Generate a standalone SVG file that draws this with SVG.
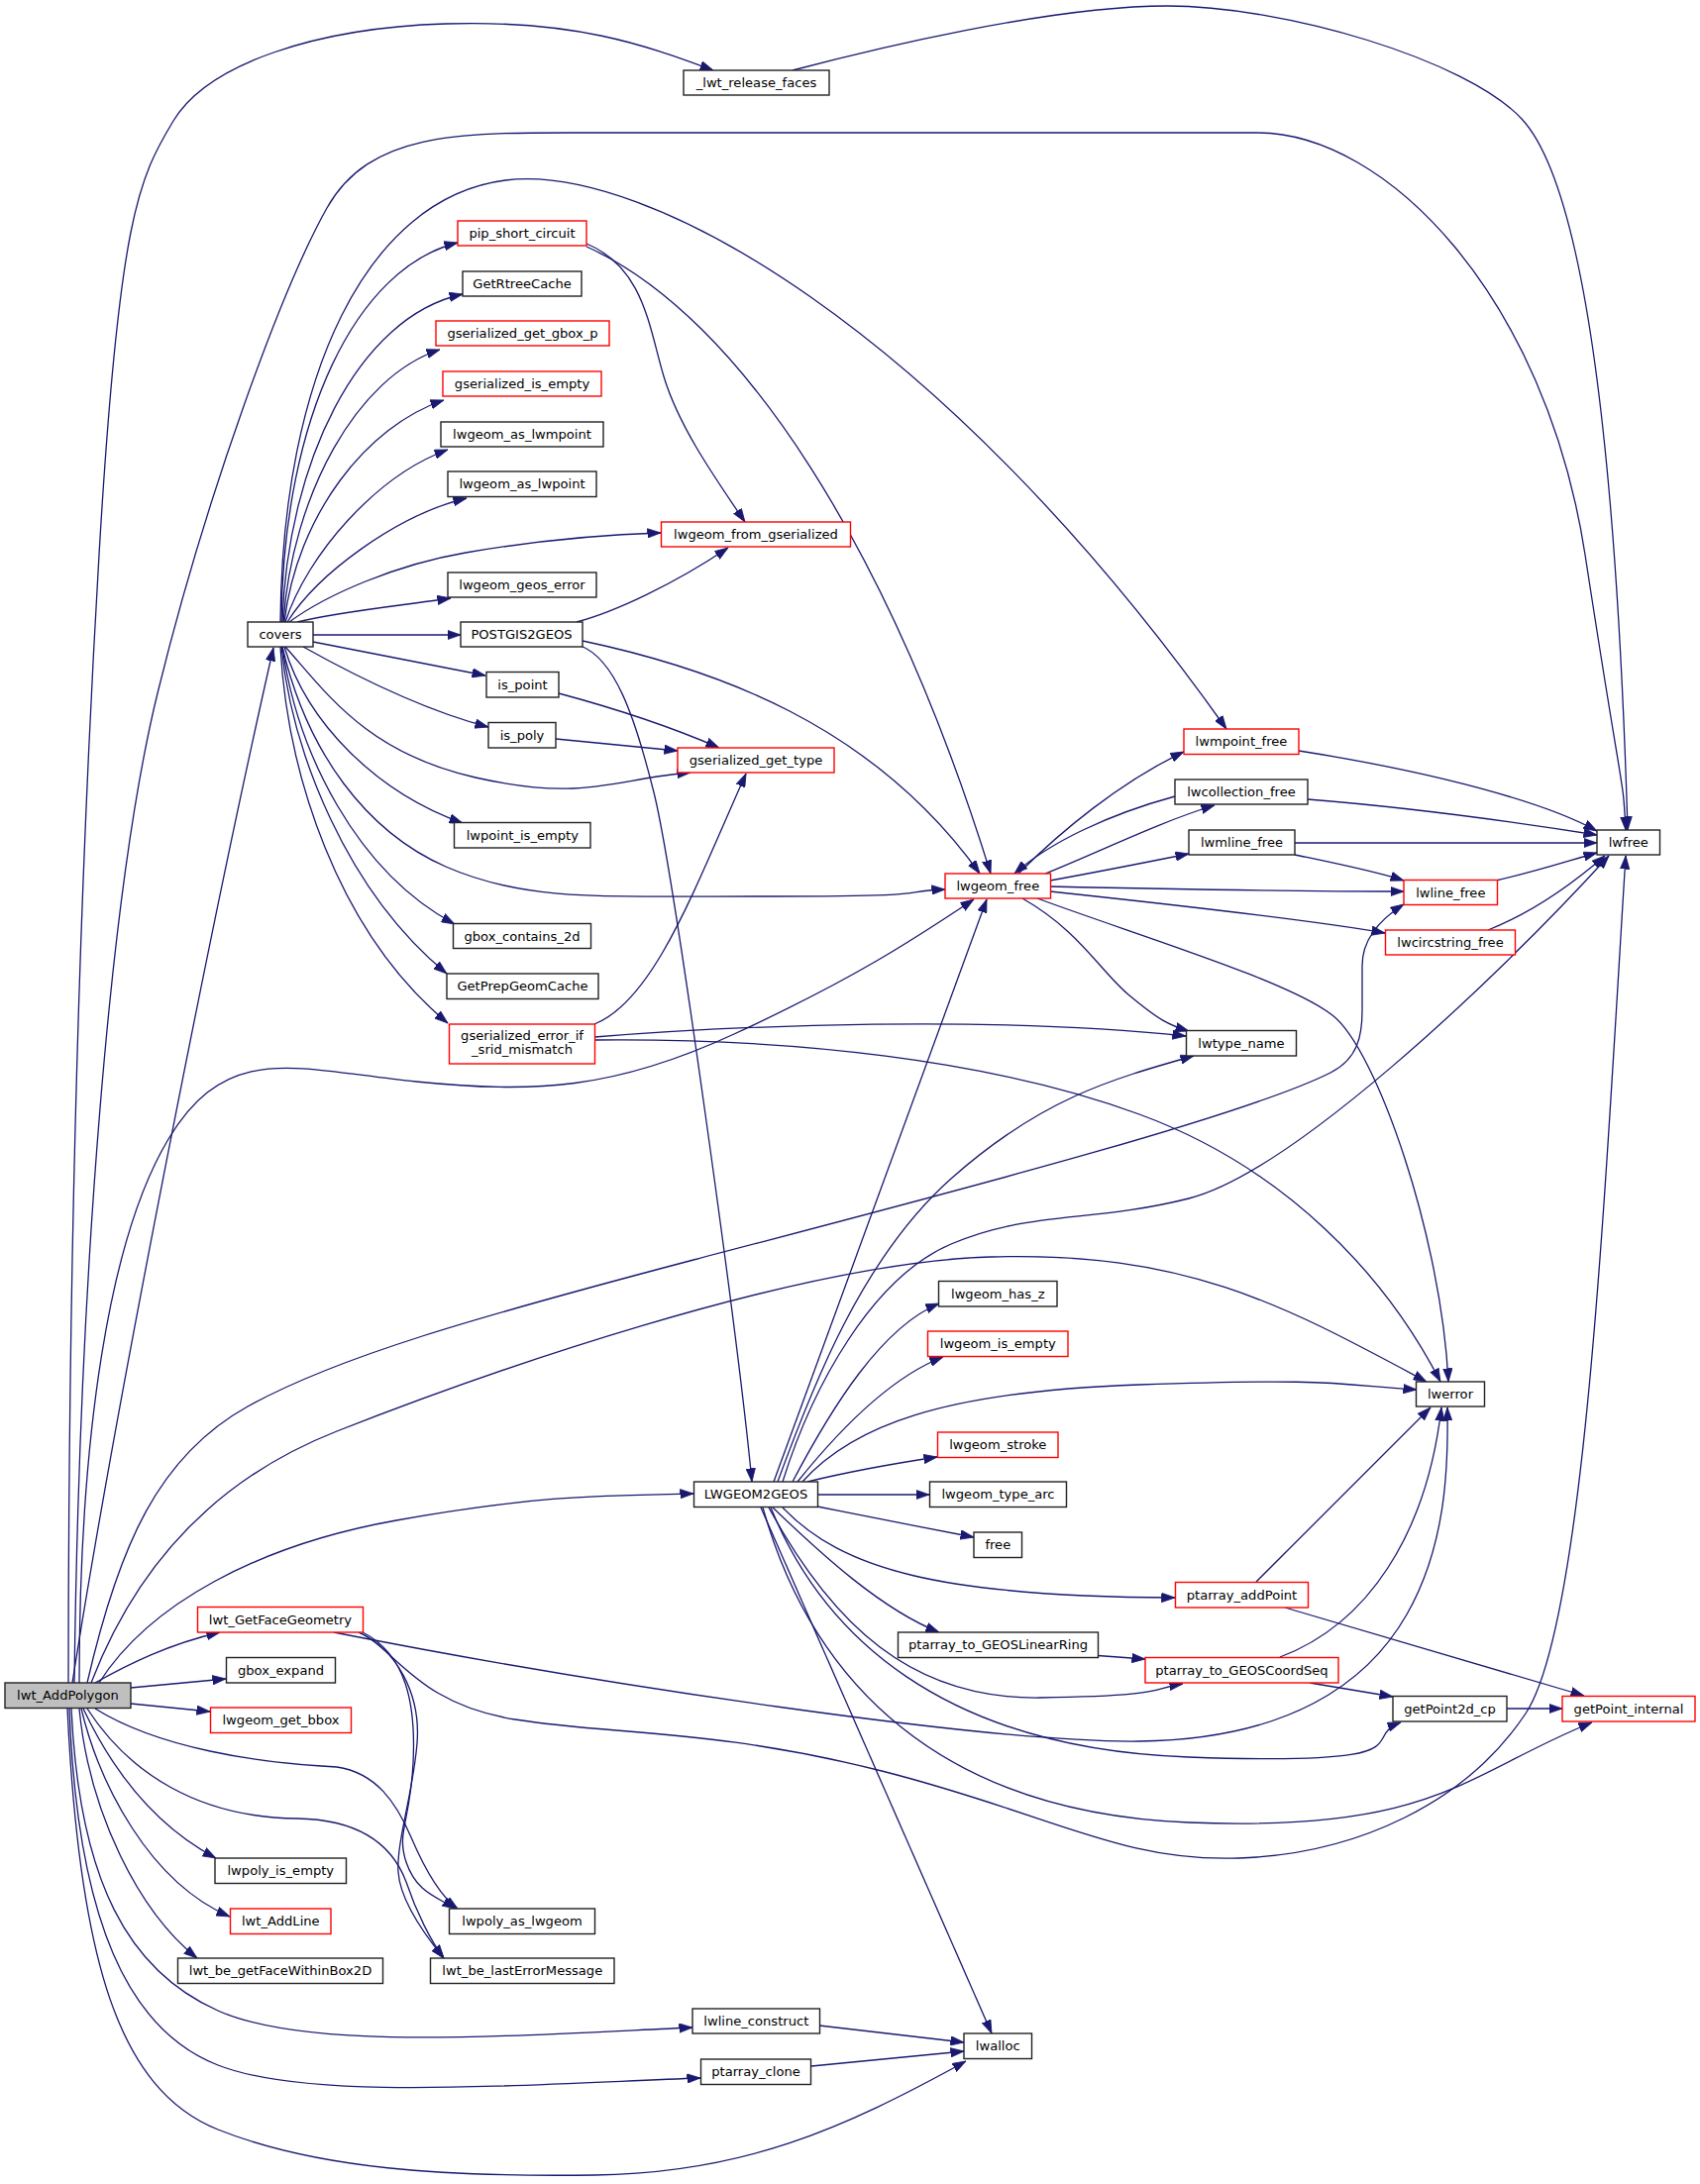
<svg xmlns="http://www.w3.org/2000/svg" width="1716" height="2205" viewBox="0 0 1716 2205">
<defs>
<marker id="a" markerUnits="userSpaceOnUse" markerWidth="14" markerHeight="10" viewBox="0 0 14 10" refX="13.5" refY="5" orient="auto"><path d="M0,0.3 L13.5,5 L0,9.7 z" fill="#191970" stroke="#191970" stroke-width="0.8"/></marker>
</defs>
<style>
.n rect{fill:#fff;stroke:#222;stroke-width:1.4}
.r rect{stroke:#f00}
.root rect{fill:#bfbfbf}
text{font-family:"DejaVu Sans","Liberation Sans",sans-serif;font-size:13.1px;text-anchor:middle;fill:#000}
#edges path{fill:none;stroke:#191970;stroke-width:1.3;marker-end:url(#a)}
</style>
<rect width="1716" height="2205" fill="#fff"/>
<g id="edges">
<path d="M69,1699 C69,1300 80,900 100,560 S140,180 175,122 S320,28 450,24 S650,45 720,71"/>
<path d="M75,1699 C80,1300 110,900 159,700 S285,290 330,210 S470,134 600,134 L1269,134 C1400,134 1560,300 1600,560 S1638,780 1641,838"/>
<path d="M800,71 C880,50 1060,6 1178,6 S1480,60 1536,120 S1630,400 1643,838"/>
<path d="M73,1699 C120,1400 220,900 276,654"/>
<path d="M284,628 C286,420 360,270 462,245"/>
<path d="M285,628 C290,470 360,320 467,297"/>
<path d="M286,628 C295,500 360,380 444,353"/>
<path d="M287,628 C300,520 370,430 448,404"/>
<path d="M288,628 C310,560 380,480 452,454"/>
<path d="M290,628 C320,580 400,520 471,503"/>
<path d="M292,628 C330,600 400,570 470,558 S600,540 667,538"/>
<path d="M300,628 C340,618 400,612 455,604"/>
<path d="M316,641 L465,641"/>
<path d="M316,648 C380,660 440,672 490,682"/>
<path d="M306,653 C340,672 420,715 493,734"/>
<path d="M288,653 C330,700 370,760 480,785 S620,786 697,780"/>
<path d="M287,653 C310,730 380,800 467,831"/>
<path d="M285,653 C310,760 370,840 450,875 S600,905 780,905 S900,900 954,898"/>
<path d="M285,653 C300,760 360,880 459,933"/>
<path d="M284,653 C295,760 350,900 451,983"/>
<path d="M283,653 C290,780 340,940 452,1033"/>
<path d="M283,628 C285,380 370,200 510,182 S950,330 1238,736"/>
<path d="M582,628 C620,618 680,590 735,553"/>
<path d="M586,652 C620,665 640,720 660,800 S745,1350 759,1496"/>
<path d="M588,647 C720,675 880,730 989,882"/>
<path d="M592,246 C650,270 655,330 670,380 S720,480 752,527"/>
<path d="M592,249 C750,320 900,560 1000,882"/>
<path d="M564,700 C620,715 680,735 726,755"/>
<path d="M561,746 L684,758"/>
<path d="M600,1034 C660,1010 700,900 753,781"/>
<path d="M600,1047 C750,1035 1000,1025 1197,1046"/>
<path d="M600,1050 C800,1048 1000,1070 1150,1125 S1400,1290 1454,1395"/>
<path d="M1028,882 C1070,840 1130,790 1195,759"/>
<path d="M1186,804 C1120,822 1060,850 1024,882"/>
<path d="M1055,882 C1110,860 1170,830 1226,813"/>
<path d="M1060,889 C1110,880 1160,870 1200,862"/>
<path d="M1060,895 C1200,898 1330,900 1417,900"/>
<path d="M1060,900 C1200,915 1330,930 1398,942"/>
<path d="M1047,907 C1150,945 1300,990 1345,1025 S1455,1250 1462,1395"/>
<path d="M1032,907 C1090,940 1110,980 1140,1005 S1180,1035 1200,1041"/>
<path d="M1311,758 C1450,780 1560,810 1612,839"/>
<path d="M1320,807 C1420,815 1530,830 1612,843"/>
<path d="M1307,851 L1612,851"/>
<path d="M1307,863 C1350,872 1390,880 1417,889"/>
<path d="M1510,889 C1550,880 1580,870 1612,861"/>
<path d="M1502,939 C1550,920 1590,890 1620,864"/>
<path d="M80,1699 C80,1450 110,1250 170,1150 S300,1080 420,1092 S620,1100 741,1044 S920,950 983,908"/>
<path d="M88,1699 C120,1560 160,1470 250,1420 S480,1330 700,1272 S1250,1130 1343,1083 C1371,1069 1375,1045 1375,1020 L1375,975 C1375,950 1390,930 1417,913"/>
<path d="M92,1699 C130,1600 200,1500 340,1445 S800,1275 1000,1269 C1200,1263 1300,1320 1440,1395"/>
<path d="M790,1496 C820,1400 880,1290 960,1256 S1100,1235 1200,1210 S1500,1000 1624,864"/>
<path d="M785,1496 C820,1400 870,1270 960,1190 S1120,1090 1205,1066"/>
<path d="M781,1496 L996,908"/>
<path d="M800,1496 C840,1420 890,1340 948,1316"/>
<path d="M805,1496 C850,1440 900,1390 952,1370"/>
<path d="M810,1496 C860,1440 950,1405 1150,1398 S1350,1398 1430,1403"/>
<path d="M815,1496 C860,1485 900,1478 946,1471"/>
<path d="M825,1509 L938,1509"/>
<path d="M825,1521 C880,1532 930,1542 983,1552"/>
<path d="M790,1522 C850,1585 950,1612 1186,1613"/>
<path d="M780,1522 C830,1570 890,1625 948,1648"/>
<path d="M776,1522 C840,1640 920,1716 1050,1714 S1160,1705 1194,1700"/>
<path d="M778,1522 C830,1650 950,1765 1200,1774 S1370,1755 1414,1739"/>
<path d="M770,1522 C820,1700 950,1830 1200,1840 S1480,1790 1607,1739"/>
<path d="M768,1522 L1001,2053"/>
<path d="M337,1648 C600,1700 1000,1760 1150,1758 C1300,1756 1380,1700 1420,1630 C1460,1560 1462,1480 1461,1421"/>
<path d="M362,1648 C400,1665 420,1720 520,1736 S720,1745 890,1788 S1130,1880 1250,1876 S1480,1820 1540,1730 S1620,1200 1641,864"/>
<path d="M362,1648 C400,1665 425,1710 421,1760 S400,1860 402,1890 S430,1955 448,1977"/>
<path d="M366,1648 C410,1670 420,1720 417,1780 S400,1850 410,1880 S440,1915 460,1927"/>
<path d="M96,1725 C160,1765 260,1780 340,1784 C380,1790 400,1820 415,1855 C430,1890 445,1915 462,1927"/>
<path d="M88,1725 C130,1790 200,1835 300,1836 C360,1837 395,1860 410,1900 C420,1930 435,1960 448,1977"/>
<path d="M96,1699 C130,1680 170,1660 222,1648"/>
<path d="M132,1704 L228,1695"/>
<path d="M132,1720 L212,1728"/>
<path d="M84,1725 C110,1780 150,1840 218,1876"/>
<path d="M82,1725 C100,1800 150,1900 232,1935"/>
<path d="M80,1725 C90,1830 140,1930 199,1977"/>
<path d="M72,1725 C80,1900 130,1990 220,2030 S500,2056 699,2047"/>
<path d="M70,1725 C78,1940 130,2050 220,2085 S500,2106 707,2098"/>
<path d="M68,1725 C80,1980 120,2110 220,2150 S450,2198 600,2196 S850,2150 975,2081"/>
<path d="M100,1699 C150,1620 260,1560 400,1535 S600,1510 700,1508"/>
<path d="M827,2045 L973,2062"/>
<path d="M819,2086 L973,2071"/>
<path d="M1108,1671.5 L1156,1675"/>
<path d="M1268,1597 L1444,1421"/>
<path d="M1297,1623 L1599,1712"/>
<path d="M1292,1673 C1380,1640 1440,1550 1455,1421"/>
<path d="M1322,1699 L1406,1713"/>
<path d="M1521,1725 L1577,1725"/>
</g>
<g id="lwt_AddPolygon" class="n root"><rect x="5" y="1699" width="127" height="25.5"/><text x="68.5" y="1716.3">lwt_AddPolygon</text></g>
<g id="covers" class="n"><rect x="250" y="628" width="66" height="25"/><text x="283" y="645.1">covers</text></g>
<g id="_lwt_release_faces" class="n"><rect x="690" y="71" width="147" height="25"/><text x="763.5" y="88.1">_lwt_release_faces</text></g>
<g id="pip_short_circuit" class="n r"><rect x="462" y="223" width="130" height="25"/><text x="527" y="240.1">pip_short_circuit</text></g>
<g id="GetRtreeCache" class="n"><rect x="467" y="274" width="120" height="25"/><text x="527" y="291.1">GetRtreeCache</text></g>
<g id="gserialized_get_gbox_p" class="n r"><rect x="440" y="324" width="175" height="25"/><text x="527.5" y="341.1">gserialized_get_gbox_p</text></g>
<g id="gserialized_is_empty" class="n r"><rect x="447" y="375" width="160" height="25"/><text x="527" y="392.1">gserialized_is_empty</text></g>
<g id="lwgeom_as_lwmpoint" class="n"><rect x="445" y="426" width="164" height="25"/><text x="527" y="443.1">lwgeom_as_lwmpoint</text></g>
<g id="lwgeom_as_lwpoint" class="n"><rect x="452" y="476" width="150" height="25.5"/><text x="527" y="493.4">lwgeom_as_lwpoint</text></g>
<g id="lwgeom_from_gserialized" class="n r"><rect x="667.5" y="527" width="191" height="25"/><text x="763" y="544.1">lwgeom_from_gserialized</text></g>
<g id="lwgeom_geos_error" class="n"><rect x="452" y="578" width="150" height="25"/><text x="527" y="595.1">lwgeom_geos_error</text></g>
<g id="POSTGIS2GEOS" class="n"><rect x="465" y="628" width="123" height="25"/><text x="526.5" y="645.1">POSTGIS2GEOS</text></g>
<g id="is_point" class="n"><rect x="491" y="678.5" width="73" height="25.5"/><text x="527.5" y="695.9">is_point</text></g>
<g id="is_poly" class="n"><rect x="493" y="729.5" width="68" height="25.5"/><text x="527" y="746.9">is_poly</text></g>
<g id="gserialized_get_type" class="n r"><rect x="684" y="755" width="158" height="25"/><text x="763" y="772.1">gserialized_get_type</text></g>
<g id="lwpoint_is_empty" class="n"><rect x="458.5" y="830.5" width="137.5" height="25.5"/><text x="527.3" y="847.9">lwpoint_is_empty</text></g>
<g id="gbox_contains_2d" class="n"><rect x="457.5" y="932.5" width="139" height="25"/><text x="527" y="949.6">gbox_contains_2d</text></g>
<g id="GetPrepGeomCache" class="n"><rect x="451" y="983" width="153" height="25.5"/><text x="527.5" y="1000.4">GetPrepGeomCache</text></g>
<g id="gserialized_error_if_srid_mismatch" class="n r"><rect x="453.5" y="1034" width="147" height="40"/><text x="527" y="1049.8">gserialized_error_if</text><text x="527" y="1064.2">_srid_mismatch</text></g>
<g id="lwgeom_free" class="n r"><rect x="954" y="882" width="106.5" height="25"/><text x="1007.3" y="899.1">lwgeom_free</text></g>
<g id="lwmpoint_free" class="n r"><rect x="1195" y="736" width="116" height="25.5"/><text x="1253" y="753.4">lwmpoint_free</text></g>
<g id="lwcollection_free" class="n"><rect x="1186" y="787" width="134" height="25"/><text x="1253" y="804.1">lwcollection_free</text></g>
<g id="lwmline_free" class="n"><rect x="1200" y="838" width="107" height="25"/><text x="1253.5" y="855.1">lwmline_free</text></g>
<g id="lwfree" class="n"><rect x="1612" y="838" width="63.5" height="25"/><text x="1643.8" y="855.1">lwfree</text></g>
<g id="lwline_free" class="n r"><rect x="1417" y="888.5" width="94.5" height="25"/><text x="1464.3" y="905.6">lwline_free</text></g>
<g id="lwcircstring_free" class="n r"><rect x="1398.5" y="939" width="131" height="25"/><text x="1464" y="956.1">lwcircstring_free</text></g>
<g id="lwtype_name" class="n"><rect x="1197.5" y="1040.5" width="111" height="25.5"/><text x="1253" y="1057.9">lwtype_name</text></g>
<g id="lwerror" class="n"><rect x="1429.5" y="1395" width="69" height="25"/><text x="1464" y="1412.1">lwerror</text></g>
<g id="lwgeom_has_z" class="n"><rect x="947.5" y="1293.5" width="119.5" height="25.5"/><text x="1007.3" y="1310.9">lwgeom_has_z</text></g>
<g id="lwgeom_is_empty" class="n r"><rect x="936.5" y="1344" width="141.5" height="25.5"/><text x="1007.3" y="1361.4">lwgeom_is_empty</text></g>
<g id="lwgeom_stroke" class="n r"><rect x="946.5" y="1446" width="121.5" height="25.5"/><text x="1007.3" y="1463.4">lwgeom_stroke</text></g>
<g id="LWGEOM2GEOS" class="n"><rect x="700.5" y="1496" width="125" height="25.5"/><text x="763" y="1513.4">LWGEOM2GEOS</text></g>
<g id="lwgeom_type_arc" class="n"><rect x="938.5" y="1496" width="138" height="25.5"/><text x="1007.5" y="1513.4">lwgeom_type_arc</text></g>
<g id="free" class="n"><rect x="983" y="1547" width="48.5" height="25.5"/><text x="1007.3" y="1564.4">free</text></g>
<g id="ptarray_addPoint" class="n r"><rect x="1186.5" y="1597.5" width="134" height="25.5"/><text x="1253.5" y="1614.9">ptarray_addPoint</text></g>
<g id="ptarray_to_GEOSLinearRing" class="n"><rect x="906.5" y="1648" width="202" height="25.5"/><text x="1007.5" y="1665.4">ptarray_to_GEOSLinearRing</text></g>
<g id="ptarray_to_GEOSCoordSeq" class="n r"><rect x="1156" y="1673.5" width="195" height="25.5"/><text x="1253.5" y="1690.9">ptarray_to_GEOSCoordSeq</text></g>
<g id="getPoint2d_cp" class="n"><rect x="1406" y="1712.5" width="115" height="25.5"/><text x="1463.5" y="1729.9">getPoint2d_cp</text></g>
<g id="getPoint_internal" class="n r"><rect x="1577" y="1712.5" width="134" height="25.5"/><text x="1644" y="1729.9">getPoint_internal</text></g>
<g id="lwt_GetFaceGeometry" class="n r"><rect x="199.5" y="1622.5" width="167" height="25.5"/><text x="283" y="1639.9">lwt_GetFaceGeometry</text></g>
<g id="gbox_expand" class="n"><rect x="228.5" y="1673.5" width="110" height="25.5"/><text x="283.5" y="1690.9">gbox_expand</text></g>
<g id="lwgeom_get_bbox" class="n r"><rect x="212.5" y="1724" width="142" height="25.5"/><text x="283.5" y="1741.4">lwgeom_get_bbox</text></g>
<g id="lwpoly_is_empty" class="n"><rect x="217" y="1876" width="132.5" height="25.5"/><text x="283.3" y="1893.4">lwpoly_is_empty</text></g>
<g id="lwt_AddLine" class="n r"><rect x="232.5" y="1927" width="101.5" height="25.5"/><text x="283.3" y="1944.4">lwt_AddLine</text></g>
<g id="lwt_be_getFaceWithinBox2D" class="n"><rect x="179.5" y="1977" width="207" height="25.5"/><text x="283" y="1994.4">lwt_be_getFaceWithinBox2D</text></g>
<g id="lwpoly_as_lwgeom" class="n"><rect x="453.5" y="1927" width="147" height="25.5"/><text x="527" y="1944.4">lwpoly_as_lwgeom</text></g>
<g id="lwt_be_lastErrorMessage" class="n"><rect x="434.5" y="1977" width="185.5" height="25.5"/><text x="527.3" y="1994.4">lwt_be_lastErrorMessage</text></g>
<g id="lwline_construct" class="n"><rect x="699" y="2028" width="128.5" height="25"/><text x="763.3" y="2045.1">lwline_construct</text></g>
<g id="lwalloc" class="n"><rect x="973" y="2053" width="68.5" height="25.5"/><text x="1007.3" y="2070.4">lwalloc</text></g>
<g id="ptarray_clone" class="n"><rect x="707.5" y="2079" width="111" height="25.5"/><text x="763" y="2096.4">ptarray_clone</text></g>
</svg>
